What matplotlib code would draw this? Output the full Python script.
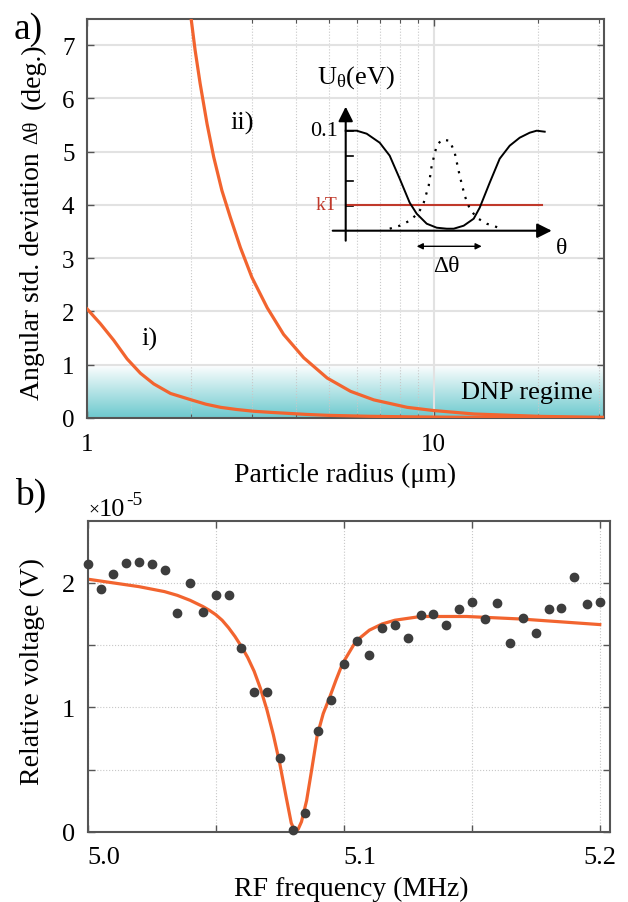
import matplotlib
matplotlib.use('Agg')
import matplotlib.pyplot as plt
import numpy as np
from matplotlib.colors import LinearSegmentedColormap

plt.rcParams['font.family'] = ['Liberation Serif', 'DejaVu Serif']
plt.rcParams['mathtext.fontset'] = 'custom'
plt.rcParams['mathtext.rm'] = 'Liberation Serif'
plt.rcParams['mathtext.it'] = 'Liberation Serif:italic'

# ---- panel a: angular spread vs particle radius ------------------------------
radius_i = [1.0, 1.093, 1.194, 1.305, 1.426, 1.558, 1.742, 2.0, 2.2, 2.43, 2.7,
            3.03, 3.4, 3.78, 4.3, 4.94, 5.6, 6.5, 8.5, 10, 14, 20, 31]
dtheta_i = [2.05, 1.77, 1.46, 1.11, 0.84, 0.64, 0.46, 0.34, 0.26, 0.20, 0.16,
            0.126, 0.105, 0.088, 0.067, 0.05, 0.042, 0.032, 0.022, 0.018, 0.01,
            0.006, 0.003]
radius_ii = [1.994, 2.05, 2.12, 2.22, 2.32, 2.45, 2.59, 2.77, 2.99, 3.31, 3.69,
             4.22, 4.93, 5.76, 6.72, 8.39, 10, 13.1, 20.4, 31]
dtheta_ii = [7.53, 6.91, 6.28, 5.52, 4.90, 4.27, 3.77, 3.20, 2.64, 2.07, 1.57,
             1.13, 0.75, 0.50, 0.34, 0.20, 0.14, 0.075, 0.03, 0.013]
dnp_limit = 1.0

# inset sketch: potential U(theta) and thermal distribution (arb. theta units)
theta_pot = [0.0, 0.11, 0.21, 0.34, 0.44, 0.54, 0.64, 0.71, 0.81, 0.91, 1.01,
             1.08, 1.18, 1.28, 1.34, 1.44, 1.54, 1.64, 1.74, 1.84, 1.91, 1.99]
u_pot = [0.100, 0.100, 0.097, 0.088, 0.075, 0.052, 0.028, 0.017, 0.007, 0.003,
         0.002, 0.002, 0.005, 0.012, 0.023, 0.048, 0.072, 0.085, 0.093, 0.098,
         0.100, 0.099]
theta_dist = [0.44, 0.54, 0.64, 0.73, 0.78, 0.83, 0.86, 0.91, 0.96, 1.04, 1.09,
              1.14, 1.19, 1.24, 1.31, 1.41, 1.56]
u_dist = [0.002, 0.005, 0.010, 0.018, 0.028, 0.045, 0.065, 0.085, 0.091, 0.090,
          0.078, 0.055, 0.035, 0.022, 0.013, 0.007, 0.002]
kT = 0.026
u_ticks = [0.025, 0.05, 0.075, 0.1]
spread = (0.71, 1.36)

# ---- panel b: resonance measurement (units of 1e-5 V) ------------------------
freq = [5.000, 5.005, 5.010, 5.015, 5.020, 5.025, 5.030, 5.035, 5.040, 5.045,
        5.050, 5.055, 5.060, 5.065, 5.070, 5.075, 5.080, 5.085, 5.090, 5.095,
        5.100, 5.105, 5.110, 5.115, 5.120, 5.125, 5.130, 5.135, 5.140, 5.145,
        5.150, 5.155, 5.160, 5.165, 5.170, 5.175, 5.180, 5.185, 5.190, 5.195,
        5.200]
voltage = [2.15, 1.95, 2.07, 2.16, 2.17, 2.15, 2.10, 1.76, 2.00, 1.77, 1.90,
           1.90, 1.48, 1.12, 1.12, 0.59, 0.01, 0.15, 0.81, 1.06, 1.35, 1.53,
           1.42, 1.64, 1.66, 1.56, 1.74, 1.75, 1.66, 1.79, 1.85, 1.71, 1.84,
           1.52, 1.72, 1.60, 1.79, 1.80, 2.05, 1.83, 1.85]
fit_freq = [5.000, 5.010, 5.020, 5.030, 5.035, 5.040, 5.0425, 5.045, 5.0475,
            5.050, 5.0525, 5.055, 5.0575, 5.060, 5.0625, 5.065, 5.0675, 5.070,
            5.0725, 5.075, 5.0775, 5.0795, 5.081, 5.0822, 5.0835, 5.0855,
            5.0875, 5.0896, 5.092, 5.0945, 5.097, 5.0995, 5.1047, 5.110, 5.115,
            5.120, 5.130, 5.148, 5.169, 5.200]
fit_voltage = [2.03, 2.00, 1.97, 1.93, 1.90, 1.86, 1.835, 1.81, 1.78, 1.745,
               1.70, 1.64, 1.57, 1.49, 1.40, 1.29, 1.15, 0.98, 0.78, 0.55,
               0.28, 0.07, 0.0, 0.02, 0.08, 0.25, 0.50, 0.77, 0.95, 1.08, 1.22,
               1.35, 1.53, 1.62, 1.67, 1.70, 1.73, 1.73, 1.71, 1.665]

orange = '#F2642F'
spine_col = '#555555'

fig = plt.figure(figsize=(6.28, 9.03), dpi=100)
W, H = 628, 903


def px_axes(x0, y0, x1, y1):
    return fig.add_axes([x0 / W, 1 - y1 / H, (x1 - x0) / W, (y1 - y0) / H])


# ---- panel a -----------------------------------------------------------------
ax = px_axes(87, 19.5, 604, 419)
ax.set_xscale('log')
ax.set_xlim(1, 31)
ax.set_ylim(0, 7.5)
ax.set_xticks([1, 10])
ax.set_xticklabels(['1', '10'])
ax.set_xticks([2, 3, 4, 5, 6, 7, 8, 9, 20, 30], minor=True)
ax.xaxis.set_minor_formatter(plt.NullFormatter())
ax.set_yticks(range(8))
ax.set_axisbelow(True)
ax.yaxis.grid(True, color='#e2e2e2', lw=1.5)
ax.xaxis.grid(True, which='major', color='#e2e2e2', lw=1.5)
ax.xaxis.grid(True, which='minor', color='#c8c8c8', lw=0.8, ls=':')

cmap = LinearSegmentedColormap.from_list('dnp', ['#6DC9CE', '#ffffff'])
grad = np.linspace(0, 1, 256).reshape(-1, 1)
ax.imshow(grad, cmap=cmap, origin='lower', aspect='auto',
          extent=(0, 1, 0, dnp_limit), transform=ax.get_yaxis_transform(),
          zorder=0.2)

ax.plot(radius_i, dtheta_i, color=orange, lw=2.3, zorder=3,
        solid_joinstyle='round')
ax.plot(radius_ii, dtheta_ii, color=orange, lw=2.3, zorder=3,
        solid_joinstyle='round')
ax.text(1.51, 1.49, 'i)', fontsize=19, ha='center', va='center')
ax.text(2.80, 5.54, 'ii)', fontsize=19, ha='center', va='center')
ax.text(28.8, 0.49, 'DNP regime', fontsize=19, ha='right', va='center')

ax.tick_params(direction='in', top=True, right=True, labelsize=18,
               length=5, width=1, color=spine_col)
ax.tick_params(axis='x', pad=11)
ax.tick_params(axis='y', pad=9)
ax.tick_params(which='minor', direction='in', top=True, length=3, width=0.8,
               color=spine_col)
for s in ax.spines.values():
    s.set_color(spine_col)
    s.set_linewidth(1.5)

fig.text(345 / W, 1 - 475 / H, 'Particle radius (μm)', fontsize=20,
         ha='center', va='center')
# y label in three pieces, the symbol set smaller as in the original
fig.text(33 / W, 1 - 400 / H, 'Angular std. deviation', fontsize=20,
         ha='center', va='bottom', rotation=90)
fig.text(33 / W, 1 - 132 / H, 'Δθ', fontsize=15,
         ha='center', va='center', rotation=90)
fig.text(33 / W, 1 - 43 / H, '(deg.)', fontsize=20,
         ha='center', va='top', rotation=90)
fig.text(14 / W, 1 - 30 / H, 'a)', fontsize=27, ha='left', va='center')

# ---- inset sketch ------------------------------------------------------------
ins = px_axes(300, 60, 580, 280)
ins.set_xlim((300 - 345.7) / 100, (580 - 345.7) / 100)
ins.set_ylim((231.7 - 280) / 1000, (231.7 - 60) / 1000)
ins.axis('off')
ins.patch.set_alpha(0)
ins.annotate('', xy=(2.06, 0), xytext=(-0.13, 0),
             arrowprops=dict(arrowstyle='-|>', color='k', lw=1.5,
                             mutation_scale=22, shrinkA=0, shrinkB=0))
ins.annotate('', xy=(0, 0.124), xytext=(0, -0.010),
             arrowprops=dict(arrowstyle='-|>', color='k', lw=1.5,
                             mutation_scale=22, shrinkA=0, shrinkB=0))
for u in u_ticks:
    ins.plot([0, 0.07], [u, u], color='k', lw=1.2)
ins.plot([0, 1.96], [kT, kT], color='#C0392B', lw=1.5)
ins.plot(theta_pot, u_pot, color='k', lw=1.4, solid_joinstyle='round')
ins.plot(theta_dist, u_dist, color='k', lw=1.6, ls=(0, (1, 3)))
ins.annotate('', xy=(spread[1], -0.0156), xytext=(spread[0], -0.0156),
             arrowprops=dict(arrowstyle='<|-|>', color='k', lw=1.0,
                             mutation_scale=9, shrinkA=0, shrinkB=0))
ins.text(-0.29, 0.148, r'U$_{\mathregular{θ}}$(eV)', fontsize=19,
         ha='left', va='baseline')
ins.text(-0.08, 0.1, '0.1', fontsize=16, ha='right', va='center')
ins.text(-0.08, kT, 'kT', fontsize=14, ha='right', va='center',
         color='#C0392B')
ins.text(2.16, -0.017, 'θ', fontsize=17, ha='center', va='center')
ins.text(1.01, -0.035, 'Δθ', fontsize=17, ha='center', va='center')

# ---- panel b -----------------------------------------------------------------
bx = px_axes(87.7, 521.7, 610, 832.7)
bx.set_xlim(5.0, 5.204)
bx.set_ylim(0, 2.5)
bx.set_xticks([5.0, 5.05, 5.1, 5.15, 5.2])
bx.set_xticklabels(['5.0', '', '5.1', '', '5.2'])
for lab, ha in zip(bx.get_xticklabels(), ['left', 'center', 'left', 'center', 'center']):
    lab.set_ha(ha)
bx.set_yticks([0, 0.5, 1, 1.5, 2])
bx.set_yticklabels(['0', '', '1', '', '2'])
bx.set_axisbelow(True)
bx.grid(True, color='#c8c8c8', lw=0.8, ls=':')
bx.plot(fit_freq, fit_voltage, color=orange, lw=2.3, zorder=2,
        solid_joinstyle='round')
bx.plot(freq, voltage, 'o', color='#3d3d3d', ms=6, zorder=3, clip_on=False)
bx.tick_params(direction='in', top=True, right=True, labelsize=19,
               length=5, width=1, color=spine_col)
bx.tick_params(axis='x', pad=10)
bx.tick_params(axis='y', pad=9)
for s in bx.spines.values():
    s.set_color(spine_col)
    s.set_linewidth(1.5)
# scale factor label: small times sign, 10, raised "-5"
fig.text(88 / W, 1 - 510 / H, '×', fontsize=14, ha='left', va='center')
fig.text(99 / W, 1 - 516 / H, '10', fontsize=19, ha='left', va='baseline')
fig.text(126 / W, 1 - 505 / H, '-5', fontsize=14, ha='left', va='baseline')

fig.text(351 / W, 1 - 889 / H, 'RF frequency (MHz)', fontsize=20,
         ha='center', va='center')
fig.text(32.5 / W, 1 - 671.5 / H, 'Relative voltage (V)', fontsize=20,
         ha='center', va='center', rotation=90)
fig.text(15 / W, 1 - 495 / H, 'b)', fontsize=27, ha='left', va='center')

fig.savefig('out.png', dpi=100)
